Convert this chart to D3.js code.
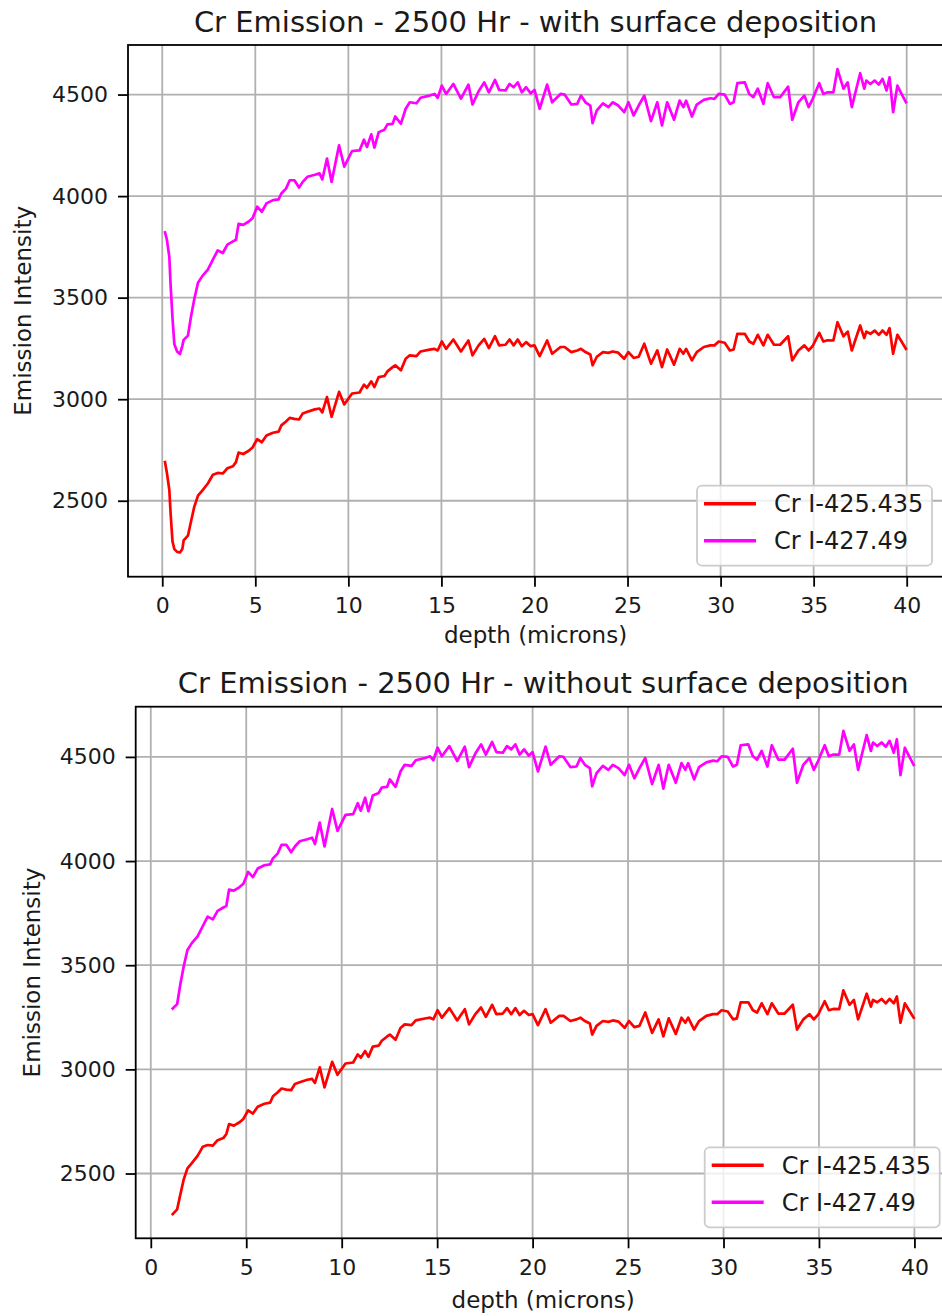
<!DOCTYPE html>
<html>
<head>
<meta charset="utf-8">
<script src="https://cdn.jsdelivr.net/npm/d3@7"></script>
<style>
  body { margin: 0; background: #fff; }
  svg { display: block; }
  text { font-family: "DejaVu Sans", sans-serif; fill: #1a1a1a; }
</style>
</head>
<body>
<svg id="fig" width="942" height="1316"></svg>
<script>
// Glow-discharge depth profile of chromium, two emission lines.
const depth = [
  0.15,0.25,0.38,0.45,0.55,0.65,0.8,0.95,1.08,1.15,
  1.38,1.55,1.72,1.92,2.15,2.45,2.72,2.98,3.25,3.5,
  3.8,3.96,4.1,4.35,4.65,4.85,5.1,5.35,5.6,5.95,
  6.25,6.4,6.65,6.85,7.1,7.35,7.55,7.8,8.2,8.45,
  8.6,8.85,9.1,9.5,9.78,10.2,10.6,10.84,11.0,11.23,
  11.4,11.63,11.94,12.1,12.38,12.52,12.82,13.08,13.3,13.66,
  13.88,14.36,14.63,14.8,15.02,15.25,15.64,16.05,16.45,16.67,
  17.0,17.3,17.55,17.88,18.1,18.44,18.66,18.88,19.1,19.32,
  19.55,19.8,20.0,20.28,20.68,20.95,21.4,21.62,21.98,22.3,
  22.5,22.74,23.0,23.12,23.35,23.68,23.97,24.2,24.5,24.82,
  25.05,25.33,25.6,25.9,26.26,26.6,26.85,27.13,27.5,27.8,
  28.0,28.15,28.46,28.72,29.1,29.45,29.67,29.9,30.22,30.5,
  30.7,30.9,31.3,31.54,31.76,32.0,32.3,32.53,32.87,33.2,
  33.63,33.85,34.18,34.5,34.73,34.95,35.3,35.52,35.75,36.06,
  36.28,36.6,36.83,37.05,37.5,37.72,37.83,38.05,38.28,38.5,
  38.7,38.92,39.08,39.27,39.5,39.68,39.96
];

// Cr I 425.435 nm
const crI425 = [
  2690,2637,2553,2436,2300,2262,2248,2245,2262,2305,
  2328,2400,2470,2525,2550,2585,2628,2637,2634,2660,
  2670,2690,2737,2730,2746,2762,2803,2788,2821,2835,
  2840,2871,2890,2908,2903,2900,2930,2938,2950,2954,
  2935,3010,2913,3036,2974,3028,3033,3072,3056,3088,
  3060,3109,3114,3137,3158,3167,3142,3199,3216,3212,
  3235,3244,3248,3240,3284,3248,3294,3235,3289,3216,
  3265,3297,3252,3310,3265,3268,3294,3265,3294,3261,
  3281,3261,3265,3212,3289,3224,3257,3257,3232,3240,
  3248,3232,3220,3167,3209,3232,3228,3235,3229,3199,
  3232,3203,3209,3273,3175,3240,3158,3245,3170,3248,
  3224,3248,3191,3232,3257,3265,3265,3284,3278,3240,
  3245,3322,3322,3284,3273,3317,3265,3317,3268,3268,
  3310,3191,3240,3265,3240,3262,3327,3284,3290,3289,
  3379,3310,3333,3240,3363,3301,3333,3322,3338,3317,
  3338,3317,3350,3224,3317,3290,3248
];

// Cr I 427.49 nm
const crI427 = [
  3821,3785,3700,3560,3400,3270,3235,3222,3264,3292,
  3313,3410,3492,3573,3606,3638,3687,3733,3720,3761,
  3777,3785,3863,3858,3875,3891,3948,3923,3964,3980,
  3984,4013,4037,4078,4078,4042,4070,4095,4105,4112,
  4082,4185,4070,4250,4145,4222,4225,4278,4242,4304,
  4239,4315,4327,4353,4356,4392,4356,4430,4462,4457,
  4484,4495,4503,4484,4544,4503,4552,4480,4549,4451,
  4516,4560,4511,4572,4523,4520,4552,4536,4560,4511,
  4536,4506,4523,4430,4549,4462,4503,4500,4451,4454,
  4495,4462,4446,4359,4422,4457,4438,4462,4446,4413,
  4462,4397,4446,4495,4369,4462,4348,4462,4376,4470,
  4438,4470,4392,4451,4474,4482,4479,4503,4500,4454,
  4462,4556,4560,4503,4487,4529,4454,4556,4487,4487,
  4539,4376,4462,4495,4438,4479,4556,4503,4511,4511,
  4625,4529,4560,4438,4605,4529,4569,4552,4569,4549,
  4577,4520,4585,4413,4544,4511,4462
];

const seriesNames = ["Cr I-425.435", "Cr I-427.49"];
const seriesColors = ["#ff0000", "#ff00ff"];
const xTicks = [0, 5, 10, 15, 20, 25, 30, 35, 40];
const yTicks = [2500, 3000, 3500, 4000, 4500];
const surfaceLayerDepth = 1.15;   // material above this depth is the deposited layer

const titles = [
  "Cr Emission - 2500 Hr - with surface deposition",
  "Cr Emission - 2500 Hr - without surface deposition"
];
const xLabel = "depth (microns)";
const yLabel = "Emission Intensity";

// Panel frames on the page
const panels = [
  { title: titles[0], minDepth: 0, left: 128, top: 45, width: 815, height: 531.7, yLabelX: 31, xLabelGap: 66 },
  { title: titles[1], minDepth: surfaceLayerDepth, left: 135.7, top: 706.7, width: 815, height: 531.6, yLabelX: 40, xLabelGap: 70 }
];

const svg = d3.select("#fig");
const FS = 22;            // tick / label font size
const GRID = "#b0b0b0";

function padded(ext) {
  const m = (ext[1] - ext[0]) * 0.05;
  return [ext[0] - m, ext[1] + m];
}

panels.forEach((p, pi) => {
  const rows = depth.map((d, i) => ({ d, v: [crI425[i], crI427[i]] }))
                    .filter(r => r.d >= p.minDepth);

  const x = d3.scaleLinear()
    .domain(padded(d3.extent(rows, r => r.d)))
    .range([0, p.width]);
  const y = d3.scaleLinear()
    .domain(padded([d3.min(rows, r => d3.min(r.v)), d3.max(rows, r => d3.max(r.v))]))
    .range([p.height, 0]);

  const g = svg.append("g").attr("transform", `translate(${p.left},${p.top})`);

  const clipId = "clip" + pi;
  g.append("clipPath").attr("id", clipId)
    .append("rect").attr("width", p.width).attr("height", p.height);

  // grid
  const grid = g.append("g").attr("clip-path", `url(#${clipId})`);
  grid.selectAll("line.gx").data(xTicks).join("line")
    .attr("x1", d => x(d)).attr("x2", d => x(d))
    .attr("y1", 0).attr("y2", p.height)
    .attr("stroke", GRID).attr("stroke-width", 1.8);
  grid.selectAll("line.gy").data(yTicks).join("line")
    .attr("y1", d => y(d)).attr("y2", d => y(d))
    .attr("x1", 0).attr("x2", p.width)
    .attr("stroke", GRID).attr("stroke-width", 1.8);

  // series
  const plot = g.append("g").attr("clip-path", `url(#${clipId})`);
  seriesNames.forEach((name, si) => {
    const line = d3.line().x(r => x(r.d)).y(r => y(r.v[si]));
    plot.append("path").datum(rows)
      .attr("d", line)
      .attr("fill", "none")
      .attr("stroke", seriesColors[si])
      .attr("stroke-width", 2.7)
      .attr("stroke-linejoin", "round")
      .attr("stroke-linecap", "square");
  });

  // axes
  const xa = g.append("g").attr("transform", `translate(0,${p.height})`)
    .call(d3.axisBottom(x).tickValues(xTicks).tickFormat(d3.format("d")).tickSize(10).tickPadding(11));
  const ya = g.append("g")
    .call(d3.axisLeft(y).tickValues(yTicks).tickFormat(d3.format("d")).tickSize(10).tickPadding(10));
  [xa, ya].forEach(a => {
    a.select(".domain").remove();
    a.selectAll(".tick line").attr("stroke", "#000").attr("stroke-width", 1.8);
    a.selectAll(".tick text").attr("font-size", FS).attr("font-family", "DejaVu Sans").attr("fill", "#1a1a1a");
  });

  // spines
  g.append("rect").attr("width", p.width).attr("height", p.height)
    .attr("fill", "none").attr("stroke", "#000").attr("stroke-width", 1.8);

  // titles and labels
  g.append("text").attr("x", p.width / 2).attr("y", -13.3)
    .attr("text-anchor", "middle").attr("font-size", 29).text(p.title);
  g.append("text").attr("x", p.width / 2).attr("y", p.height + p.xLabelGap)
    .attr("text-anchor", "middle").attr("font-size", 23).text(xLabel);
  g.append("text")
    .attr("transform", `translate(${p.yLabelX - p.left},${p.height / 2}) rotate(-90)`)
    .attr("text-anchor", "middle").attr("font-size", 23).text(yLabel);

  // legend
  const lw = 235, lh = 80;
  const lg = g.append("g").attr("transform", `translate(${p.width - 11 - lw},${p.height - 11 - lh})`);
  lg.append("rect").attr("width", lw).attr("height", lh).attr("rx", 5)
    .attr("fill", "#fff").attr("fill-opacity", 0.8)
    .attr("stroke", "#cccccc").attr("stroke-width", 1.8);
  seriesNames.forEach((name, si) => {
    const yy = 18 + si * 37;
    lg.append("line").attr("x1", 7).attr("x2", 59).attr("y1", yy).attr("y2", yy)
      .attr("stroke", seriesColors[si]).attr("stroke-width", 3.4);
    lg.append("text").attr("x", 77).attr("y", yy).attr("dy", "0.36em")
      .attr("font-size", 24).text(name);
  });
});
</script>
</body>
</html>
